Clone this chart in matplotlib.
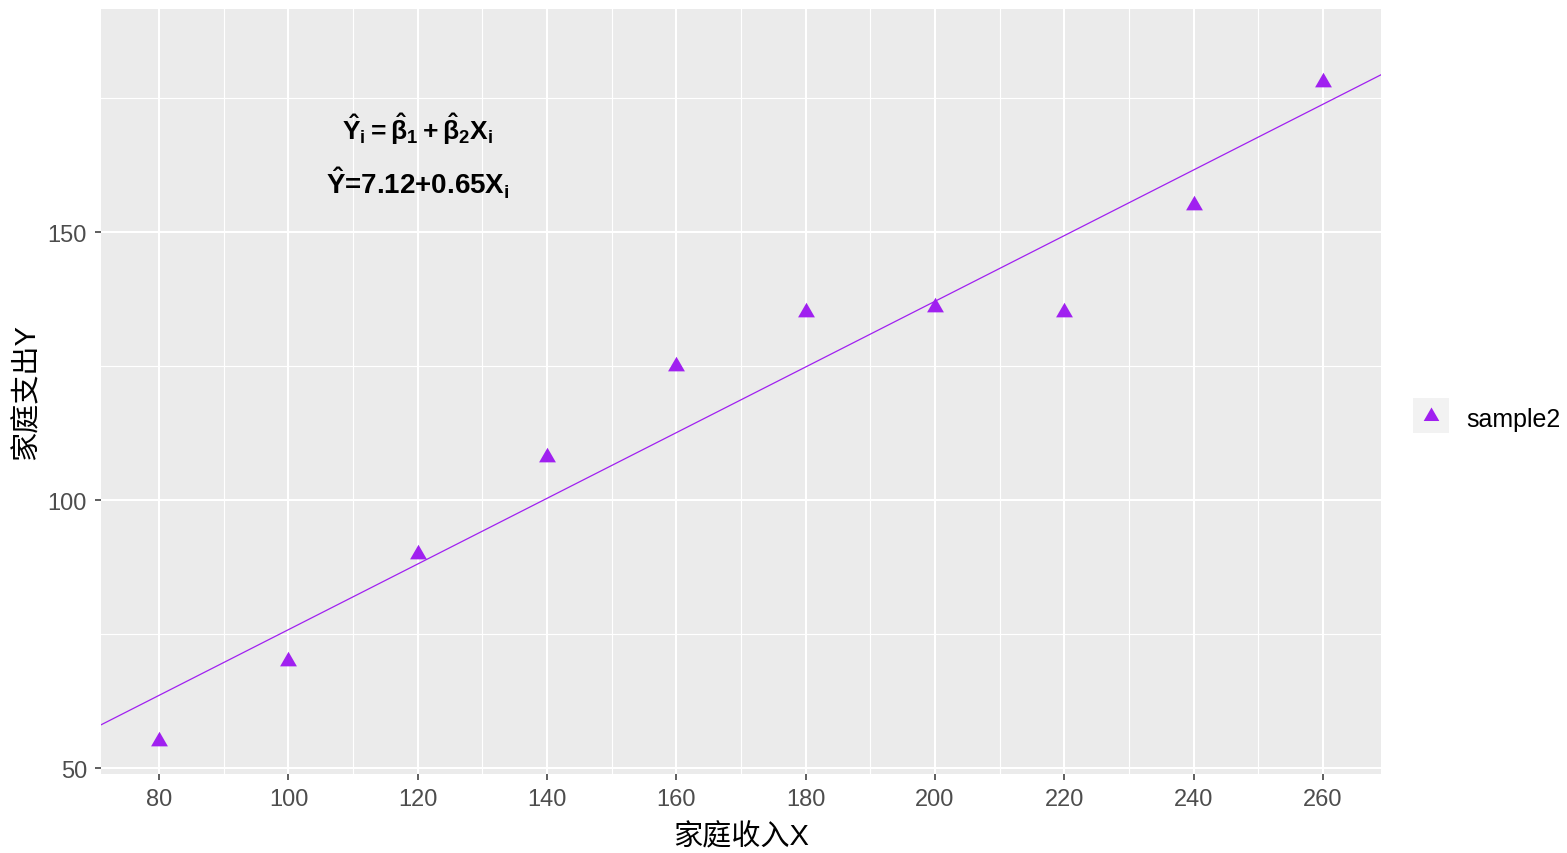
import numpy as np
import matplotlib.pyplot as plt
from matplotlib.ticker import MultipleLocator

plt.rcParams['font.family'] = ['Liberation Sans', 'Noto Sans CJK SC']
plt.rcParams['mathtext.fontset'] = 'custom'
plt.rcParams['mathtext.rm'] = 'Liberation Sans:bold'
plt.rcParams['mathtext.it'] = 'Liberation Sans:bold'
plt.rcParams['mathtext.bf'] = 'Liberation Sans:bold'

# family income X and family spending Y, sample 2
income = [80, 100, 120, 140, 160, 180, 200, 220, 240, 260]
spending = [55, 70, 90, 108, 125, 135, 136, 135, 155, 178]
series_name = 'sample2'
x_label = '家庭收入X'
y_label = '家庭支出Y'
formula_general = r'$\hat{Y}_i=\hat{\beta}_1+\hat{\beta}_2X_i$'
formula_fit = r'$\hat{Y}$=7.12+0.65X$_i$'

purple = '#A020F0'
# triangle with its centroid on the data point
tri = [(0, 1), (0.866, -0.5), (-0.866, -0.5), (0, 1)]

fig = plt.figure(figsize=(15.67, 8.54), dpi=100)
ax = fig.add_axes([101 / 1567, 1 - 775 / 854, 1280 / 1567, 765 / 854])
ax.set_facecolor('#EBEBEB')
for s in ax.spines.values():
    s.set_visible(False)

x = np.array(income, dtype=float)
y = np.array(spending, dtype=float)
xlim = (x.min() - 0.05 * np.ptp(x), x.max() + 0.05 * np.ptp(x))
ax.set_xlim(*xlim)
ax.set_ylim(48.9, 191.6)

ax.xaxis.set_major_locator(MultipleLocator(20))
ax.xaxis.set_minor_locator(MultipleLocator(10))
ax.yaxis.set_major_locator(MultipleLocator(50))
ax.yaxis.set_minor_locator(MultipleLocator(25))
ax.grid(which='major', color='white', linewidth=1.5)
ax.grid(which='minor', color='white', linewidth=0.8)
ax.set_axisbelow(True)
ax.tick_params(which='major', length=4, width=1.1, color='#333333',
               labelsize=17, labelcolor='#4D4D4D', pad=6)
ax.tick_params(which='minor', length=0)

# least squares line over the panel width
slope, icpt = np.polyfit(x, y, 1)
xs = np.array(xlim)
ax.plot(xs, icpt + slope * xs, color=purple, linewidth=0.9, zorder=2)
ax.plot(x, y, linestyle='none', marker=tri, markersize=14,
        color=purple, markeredgewidth=0, zorder=3)

ax.text(120, 169.3, formula_general, fontsize=19, ha='center', va='center')
ax.text(120, 159.2, formula_fit, fontsize=20, ha='center', va='center',
        fontweight='bold')

ax.set_xlabel(x_label, fontsize=21, labelpad=9)
ax.set_ylabel(y_label, fontsize=21, labelpad=5)

# legend key
key = fig.add_axes([1413 / 1567, 1 - 434 / 854, 36 / 1567, 35 / 854])
key.set_facecolor('#F2F2F2')
key.set_xticks([])
key.set_yticks([])
for s in key.spines.values():
    s.set_visible(False)
key.set_xlim(-1, 1)
key.set_ylim(-1, 1)
key.plot([0], [-0.05], marker=tri, markersize=13, color=purple,
         markeredgewidth=0, linestyle='none')
fig.text(1466 / 1567, 1 - 420 / 854, series_name, fontsize=18,
         ha='left', va='center', color='black')

fig.savefig('out.png', dpi=100)
